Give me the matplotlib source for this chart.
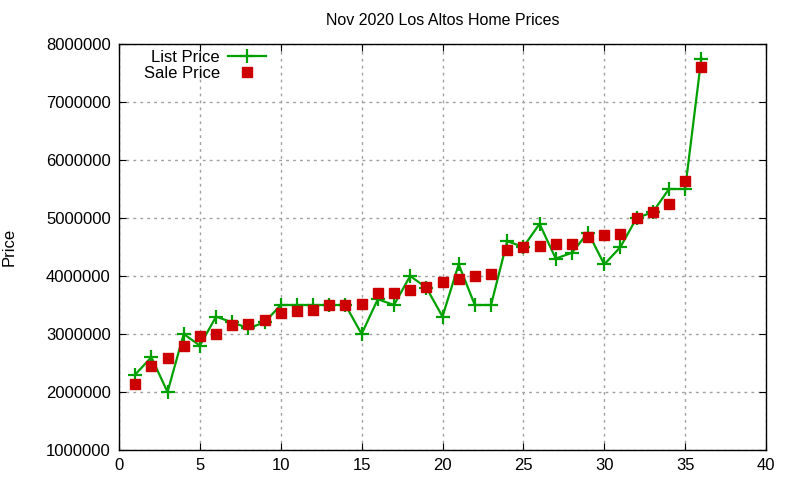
import matplotlib
matplotlib.use('Agg')
import matplotlib.pyplot as plt
import numpy as np

plt.rcParams['font.family'] = ['Liberation Sans', 'DejaVu Sans']

# data
house = np.arange(1, 37)
list_price = [2300000, 2600000, 2000000, 3000000, 2800000, 3300000, 3200000, 3100000,
              3200000, 3500000, 3500000, 3500000, 3500000, 3500000, 3000000, 3600000,
              3500000, 4000000, 3800000, 3300000, 4200000, 3500000, 3500000, 4600000,
              4500000, 4900000, 4300000, 4400000, 4750000, 4200000, 4500000, 5000000,
              5100000, 5500000, 5500000, 7750000]
sale_price = [2130000, 2450000, 2580000, 2800000, 2960000, 3000000, 3150000, 3170000,
              3250000, 3360000, 3400000, 3420000, 3500000, 3500000, 3510000, 3700000,
              3700000, 3760000, 3810000, 3900000, 3950000, 4000000, 4030000, 4450000,
              4500000, 4520000, 4550000, 4550000, 4680000, 4700000, 4730000, 5000000,
              5100000, 5250000, 5630000, 7600000]

fig = plt.figure(figsize=(8, 4.8), dpi=100)
ax = fig.add_axes([119/800, 30/480, 647/800, 406/480])

ax.plot(house, list_price, color='#00a000', lw=1.6, marker='+', ms=10, mew=1.6,
        label='List Price')
ax.plot(house, sale_price, ls='none', color='#cc0000', marker='s', ms=6.5,
        label='Sale Price')

ax.set_xlim(0, 40)
ax.set_ylim(1000000, 8000000)
ax.set_xticks(np.arange(0, 41, 5))
ax.set_yticks(np.arange(1000000, 8000001, 1000000))
ax.yaxis.set_major_formatter(matplotlib.ticker.FuncFormatter(lambda v, p: '%d' % v))
ax.tick_params(direction='in', top=True, right=True, labelsize=12, length=5, pad=6)
ax.grid(True, ls=(0, (2, 3)), color='#a0a0a0', lw=1)
for s in ax.spines.values():
    s.set_linewidth(1)

ax.set_title('Nov 2020 Los Altos Home Prices', fontsize=11.5, pad=14)
ax.set_ylabel('Price', fontsize=12, labelpad=21)

ax.legend(loc='upper left', bbox_to_anchor=(0.02, 1.015), frameon=False, markerfirst=False,
          fontsize=12, handlelength=2.3, labelspacing=0.08, borderaxespad=0.3,
          handletextpad=0.5)

fig.savefig('out.png', dpi=100)
